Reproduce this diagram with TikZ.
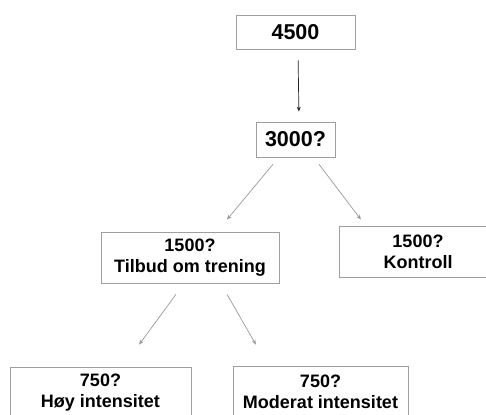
\documentclass[tikz,border=0pt]{standalone}
\usepackage{fontspec}
\setmainfont{Liberation Sans}
\usetikzlibrary{positioning,arrows.meta}

\begin{document}
\begin{tikzpicture}[on grid,
  box/.style={draw=gray!75, line width=0.8pt, fill=white, align=center,
    inner sep=0pt, font=\fontsize{18}{21}\selectfont\bfseries},
  bigbox/.style={box, font=\fontsize{21.5}{24}\selectfont\bfseries},
  arr/.style={-{Stealth[length=5pt,width=4pt]},
    every edge/.append style={draw=gray!80, line width=0.7pt}}]
\useasboundingbox (0,0) rectangle (486pt,414pt);
\clip (0,0) rectangle (486pt,414pt);

\node[bigbox, minimum width=119pt, minimum height=34pt] (n4500) at (295.5pt,382pt) {4500};
\node[bigbox, minimum width=79pt, minimum height=35pt] (n3000) [below=107.5pt of n4500] {3000?};
\node[box, minimum width=178pt, minimum height=51pt] (tilbud) [below left=118pt and 105.5pt of n3000] {1500?\\Tilbud om trening};
\node[box, minimum width=158pt, minimum height=51pt] (kontroll) [below right=112pt and 122.5pt of n3000] {1500?\\Kontroll};
\node[box, minimum width=181pt, minimum height=51pt] (hoy) [below left=135pt and 89.5pt of tilbud] {750?\\Høy intensitet};
\node[box, minimum width=175pt, minimum height=51pt] (moderat) [below right=134pt and 130.5pt of tilbud] {750?\\Moderat intensitet};

\path[arr]
([xshift=-16.75pt]n3000.south) edge [shorten <=9pt, shorten >=15.5pt] ([xshift=27pt]tilbud.north)
([xshift=18.25pt]n3000.south) edge [shorten <=8.75pt, shorten >=7.5pt] ([xshift=-52.5pt]kontroll.north)

([xshift=-6pt]tilbud.south) edge [shorten <=13.6pt, shorten >=27.2pt] ([xshift=22.5pt]hoy.north)
([xshift=30.7pt]tilbud.south) edge [shorten <=12.7pt, shorten >=24.2pt] ([xshift=-52.5pt]moderat.north)
; %end path

\draw[line width=0.7pt, draw=black!85, -{Stealth[length=5pt,width=4pt]}, shorten <=11pt, shorten >=10pt]
  ([xshift=2.5pt]n4500.south) -- ([xshift=3.5pt]n3000.north);
\end{tikzpicture}
\end{document}
